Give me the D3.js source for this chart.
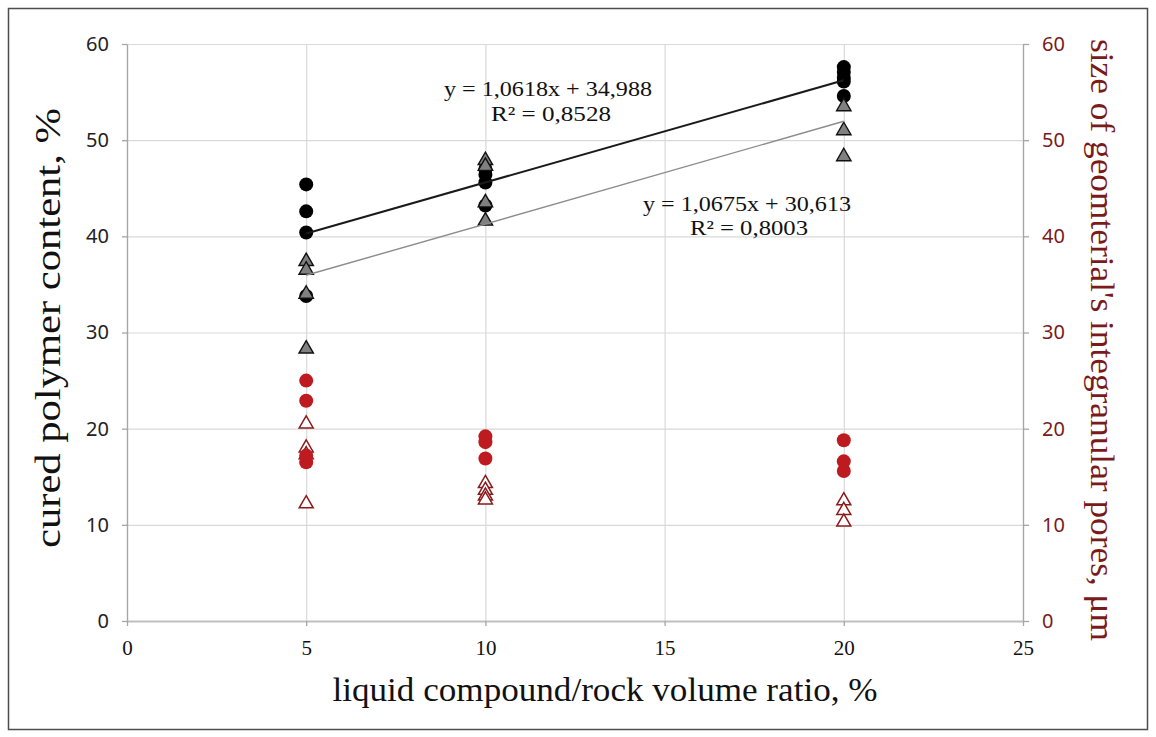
<!DOCTYPE html>
<html>
<head>
<meta charset="utf-8">
<script src="https://cdn.jsdelivr.net/npm/d3@7"></script>
<style>
	body { margin: 0; background: #fff; }
	#viz { display: block; }
	.grid line { stroke: #d9d9d9; stroke-width: 1.2; }
	.grid path { display: none; }
	.axis path, .axis line { stroke: #a6a6a6; stroke-width: 1.3; }
	.x-axis path { stroke: #bfbfbf; stroke-width: 2; }
	.y-axis text { font-family: 'Noto Sans', sans-serif; font-size: 20px; fill: #222; }
	.y2-axis text { font-family: 'Noto Sans', sans-serif; font-size: 20px; fill: #7a1a1a; }
	.x-axis text { font-family: 'Liberation Serif', serif; font-size: 21px; fill: #111; }
	.title { font-family: 'Liberation Serif', serif; }
	.eq { font-family: 'Liberation Serif', serif; font-size: 22px; fill: #111; }
</style>
</head>
<body>
<svg id="viz" width="1156" height="737"></svg>
<script>

// liquid compound / rock volume ratio, %
var ratios = [ 5, 10, 20 ];

// cured polymer content, % (left axis)
var polymerCircles = [
	[ 45.4, 42.6, 40.4, 33.8 ],
	[ 47.0, 46.4, 45.6, 43.2 ],
	[ 57.6, 57.1, 56.5, 56.1, 54.6 ]
];
var polymerTriangles = [
	[ 37.5, 36.6, 34.1, 28.4 ],
	[ 48.0, 47.4, 43.6, 41.7 ],
	[ 53.6, 51.1, 48.4 ]
];

// pore size, µm (right axis)
var poreCircles = [
	[ 25.0, 22.9, 17.2, 16.5 ],
	[ 19.2, 18.6, 16.9 ],
	[ 18.8, 16.6, 15.6 ]
];
var poreTriangles = [
	[ 20.6, 18.1, 17.4, 12.3 ],
	[ 14.4, 13.7, 13.1, 12.7 ],
	[ 12.6, 11.6, 10.4 ]
];

// linear trends of the two polymer series
var trendSlopes = [ 1.0618, 1.0675 ];
var trendIntercepts = [ 34.988, 30.613 ];
var trendLabels = [
	[ 'y = 1,0618x + 34,988', 'R² = 0,8528' ],
	[ 'y = 1,0675x + 30,613', 'R² = 0,8003' ]
];

var xTicks = [ 0, 5, 10, 15, 20, 25 ];
var yTicks = [ 0, 10, 20, 30, 40, 50, 60 ];

var padding = { top: 44, right: 133, bottom: 116, left: 127 };
var width = 1156 - padding.left - padding.right;
var height = 737 - padding.top - padding.bottom;

var svg = d3.select( '#viz' );

svg.append( 'rect' )
	.attr( 'x', 8.5 ).attr( 'y', 8.5 )
	.attr( 'width', 1139 ).attr( 'height', 721 )
	.style( 'fill', 'none' )
	.style( 'stroke', '#4d4d4d' )
	.style( 'stroke-width', 1.5 );

var x = d3.scaleLinear().domain( [ 0, 25 ] ).range( [ 0, width ] );
var y = d3.scaleLinear().domain( [ 0, 60 ] ).range( [ height, 0 ] );
var y2 = d3.scaleLinear().domain( [ 0, 60 ] ).range( [ height, 0 ] );

var g = svg.append( 'g' )
	.attr( 'transform', 'translate(' + padding.left + ',' + padding.top + ')' );

// gridlines
g.append( 'g' )
	.classed( 'grid', true )
	.call( d3.axisLeft( y ).tickValues( yTicks ).tickSize( -width ).tickFormat( '' ) );

g.append( 'g' )
	.classed( 'grid', true )
	.attr( 'transform', 'translate(0,' + height + ')' )
	.call( d3.axisBottom( x ).tickValues( xTicks ).tickSize( -height ).tickFormat( '' ) );

// axes
g.append( 'g' )
	.classed( 'axis', true )
	.classed( 'y-axis', true )
	.call( d3.axisLeft( y ).tickValues( yTicks ).tickSize( 5 ).tickSizeOuter( 0 ).tickPadding( 13 ) );

g.append( 'g' )
	.classed( 'axis', true )
	.classed( 'y2-axis', true )
	.attr( 'transform', 'translate(' + width + ',0)' )
	.call( d3.axisRight( y2 ).tickValues( yTicks ).tickSize( 6 ).tickSizeOuter( 0 ).tickPadding( 13 ) );

g.append( 'g' )
	.classed( 'axis', true )
	.classed( 'x-axis', true )
	.attr( 'transform', 'translate(0,' + height + ')' )
	.call( d3.axisBottom( x ).tickValues( xTicks ).tickSize( 5 ).tickSizeOuter( 0 ).tickPadding( 14 ) );

// flatten the grouped values into points
var toPoints = function ( groups ) {
	var pts = [];
	groups.forEach( function ( vals, i ) {
		vals.forEach( function ( v ) {
			pts.push( { ratio: ratios[i], value: v } );
		} );
	} );
	return pts;
};

var tri = d3.symbol().type( d3.symbolTriangle );

g.selectAll( 'circle.polymer' )
	.data( toPoints( polymerCircles ) )
	.enter()
	.append( 'circle' )
	.classed( 'polymer', true )
	.attr( 'cx', function ( d ) { return x( d.ratio ); } )
	.attr( 'cy', function ( d ) { return y( d.value ); } )
	.attr( 'r', 7 )
	.style( 'fill', '#000' );

g.selectAll( 'path.polymer-tri' )
	.data( toPoints( polymerTriangles ) )
	.enter()
	.append( 'path' )
	.classed( 'polymer-tri', true )
	.attr( 'd', tri.size( 90 ) )
	.attr( 'transform', function ( d ) {
		return 'translate(' + x( d.ratio ) + ',' + ( y( d.value ) + 1 ) + ')';
	} )
	.style( 'fill', '#808080' )
	.style( 'stroke', '#111' )
	.style( 'stroke-width', 1.4 );

g.selectAll( 'path.pore-tri' )
	.data( toPoints( poreTriangles ) )
	.enter()
	.append( 'path' )
	.classed( 'pore-tri', true )
	.attr( 'd', tri.size( 85 ) )
	.attr( 'transform', function ( d ) {
		return 'translate(' + x( d.ratio ) + ',' + ( y2( d.value ) + 1 ) + ')';
	} )
	.style( 'fill', '#fff' )
	.style( 'stroke', '#8b1a1a' )
	.style( 'stroke-width', 1.5 );

g.selectAll( 'circle.pore' )
	.data( toPoints( poreCircles ) )
	.enter()
	.append( 'circle' )
	.classed( 'pore', true )
	.attr( 'cx', function ( d ) { return x( d.ratio ); } )
	.attr( 'cy', function ( d ) { return y2( d.value ); } )
	.attr( 'r', 7 )
	.style( 'fill', '#be1b21' );

// trend lines, from first to last ratio
var trendColors = [ '#1a1a1a', '#8c8c8c' ];
var trendWidths = [ 2, 1.4 ];

trendSlopes.forEach( function ( slope, i ) {
	var ends = [ ratios[0], ratios[ ratios.length - 1 ] ].map( function ( r ) {
		return { ratio: r, value: slope * r + trendIntercepts[i] };
	} );
	var line = d3.line()
		.x( function ( d ) { return x( d.ratio ); } )
		.y( function ( d ) { return y( d.value ); } );
	g.append( 'path' )
		.datum( ends )
		.attr( 'd', line )
		.style( 'fill', 'none' )
		.style( 'stroke', trendColors[i] )
		.style( 'stroke-width', trendWidths[i] );
} );

// equation labels
var eqPos = [ [ 548, 96, 551, 121 ], [ 747, 211, 749, 235 ] ];
var eqLen = [ [ 208, 120 ], [ 208, 118 ] ];
trendLabels.forEach( function ( lbl, i ) {
	svg.append( 'text' ).classed( 'eq', true )
		.attr( 'x', eqPos[i][0] ).attr( 'y', eqPos[i][1] )
		.attr( 'text-anchor', 'middle' )
		.attr( 'textLength', eqLen[i][0] ).attr( 'lengthAdjust', 'spacingAndGlyphs' )
		.text( lbl[0] );
	svg.append( 'text' ).classed( 'eq', true )
		.attr( 'x', eqPos[i][2] ).attr( 'y', eqPos[i][3] )
		.attr( 'text-anchor', 'middle' )
		.attr( 'textLength', eqLen[i][1] ).attr( 'lengthAdjust', 'spacingAndGlyphs' )
		.text( lbl[1] );
} );

// axis titles
svg.append( 'text' ).classed( 'title', true )
	.attr( 'transform', 'translate(60,328) rotate(-90)' )
	.attr( 'text-anchor', 'middle' )
	.style( 'font-size', '36px' )
	.style( 'fill', '#111' )
	.attr( 'textLength', 440 ).attr( 'lengthAdjust', 'spacingAndGlyphs' )
	.text( 'cured polymer content, %' );

svg.append( 'text' ).classed( 'title', true )
	.attr( 'transform', 'translate(1091,340) rotate(90)' )
	.attr( 'text-anchor', 'middle' )
	.style( 'font-size', '34px' )
	.style( 'fill', '#7a1a1a' )
	.attr( 'textLength', 602 ).attr( 'lengthAdjust', 'spacingAndGlyphs' )
	.text( 'size of geomterial\'s integranular pores, μm' );

svg.append( 'text' ).classed( 'title', true )
	.attr( 'x', 605 ).attr( 'y', 701 )
	.attr( 'text-anchor', 'middle' )
	.style( 'font-size', '34px' )
	.style( 'fill', '#111' )
	.attr( 'textLength', 545 ).attr( 'lengthAdjust', 'spacingAndGlyphs' )
	.text( 'liquid compound/rock volume ratio, %' );

</script>
</body>
</html>
